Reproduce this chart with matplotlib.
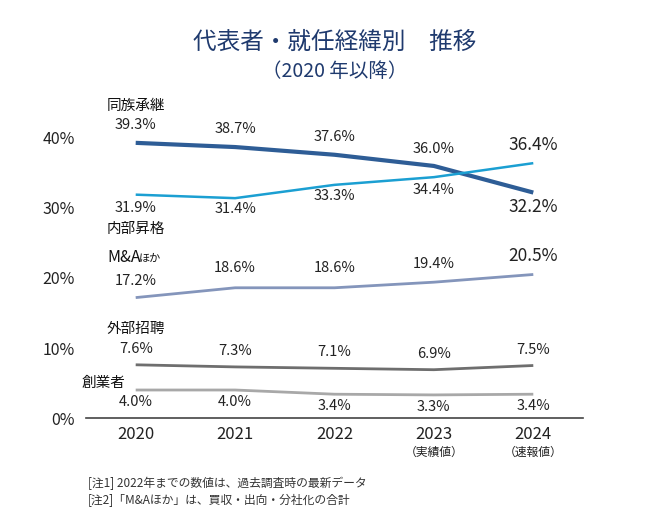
import matplotlib
matplotlib.use('Agg')
import matplotlib.pyplot as plt

plt.rcParams['font.family'] = ['Noto Sans CJK JP', 'DejaVu Sans']

years = ['2020', '2021', '2022', '2023', '2024']
year_notes = ['', '', '', '（実績値）', '（速報値）']

dozoku = [39.3, 38.7, 37.6, 36.0, 32.2]      # 同族承継
naibu = [31.9, 31.4, 33.3, 34.4, 36.4]       # 内部昇格
ma = [17.2, 18.6, 18.6, 19.4, 20.5]          # M&Aほか
gaibu = [7.6, 7.3, 7.1, 6.9, 7.5]            # 外部招聘
sogyo = [4.0, 4.0, 3.4, 3.3, 3.4]            # 創業者

x = list(range(len(years)))

fig = plt.figure(figsize=(6.5, 5.28), dpi=100)
ax = fig.add_axes([0.1323, 0.2083, 0.7646, 0.61])

# (values, color, width, label offset px above(+)/below(-))
series = [
    (dozoku, '#2e5d96', 3.0, [18, 18, 18, 17, -14]),
    (naibu, '#1b9fd2', 1.8, [-13, -11, -11, -13, 18]),
    (ma, '#8495bb', 2.0, [17, 20, 20, 18, 18]),
    (gaibu, '#6e6e6e', 2.0, [16, 16, 16, 16, 16]),
    (sogyo, '#a8a8a8', 2.0, [-12, -12, -12, -12, -12]),
]

for vals, col, lw, offs in series:
    ax.plot(x, vals, color=col, lw=lw, solid_capstyle='butt')
    for i, v in enumerate(vals):
        big = (i == 4 and vals in (dozoku, naibu, ma))
        ax.annotate(f'{v:.1f}%', (i, v), xytext=(0, offs[i] * 0.72),
                    textcoords='offset points', ha='center', va='center',
                    fontsize=12.5 if big else 10.5, color='#222222')

# series names
name_kw = dict(ha='center', va='center', fontsize=10.5, color='#111111')
ax.text(0, 44.6, '同族承継', **name_kw)
ax.text(0, 27.0, '内部昇格', **name_kw)
ax.text(0, 12.7, '外部招聘', **name_kw)
ax.text(-0.32, 5.0, '創業者', **name_kw)
ax.annotate('M&A', (0, 22.9), xytext=(4, 0), textcoords='offset points',
            ha='right', va='center', fontsize=11.5, color='#111111')
ax.annotate('ほか', (0, 22.9), xytext=(2.5, -1), textcoords='offset points',
            ha='left', va='center', fontsize=8, color='#111111')

ax.set_xlim(-0.5, 4.5)
ax.set_ylim(0, 46)
ax.set_yticks([0, 10, 20, 30, 40])
ax.set_yticklabels(['0%', '10%', '20%', '30%', '40%'])
ax.set_xticks(x)
ax.set_xticklabels(years)
ax.tick_params(axis='both', length=0, labelsize=11.5, colors='#222222')
ax.tick_params(axis='y', pad=8)
ax.tick_params(axis='x', pad=6, labelsize=12)
for s in ['top', 'right', 'left']:
    ax.spines[s].set_visible(False)
ax.spines['bottom'].set_color('#444444')
ax.spines['bottom'].set_linewidth(1.2)

for i, note in enumerate(year_notes):
    if note:
        ax.annotate(note, (i, 0), xytext=(0, -25), textcoords='offset points',
                    ha='center', va='center', fontsize=8.5, color='#222222')

fig.text(0.515, 0.920, '代表者・就任経緯別　推移', ha='center', va='center',
         fontsize=17, color='#1f3a6e')
fig.text(0.515, 0.864, '（2020 年以降）', ha='center', va='center',
         fontsize=14, color='#1f3a6e')

fig.text(0.135, 0.085, '[注1] 2022年までの数値は、過去調査時の最新データ',
         ha='left', va='center', fontsize=8.5, color='#333333')
fig.text(0.135, 0.053, '[注2]「M&Aほか」は、買収・出向・分社化の合計',
         ha='left', va='center', fontsize=8.5, color='#333333')

fig.savefig('out.png', dpi=100, facecolor='white')
